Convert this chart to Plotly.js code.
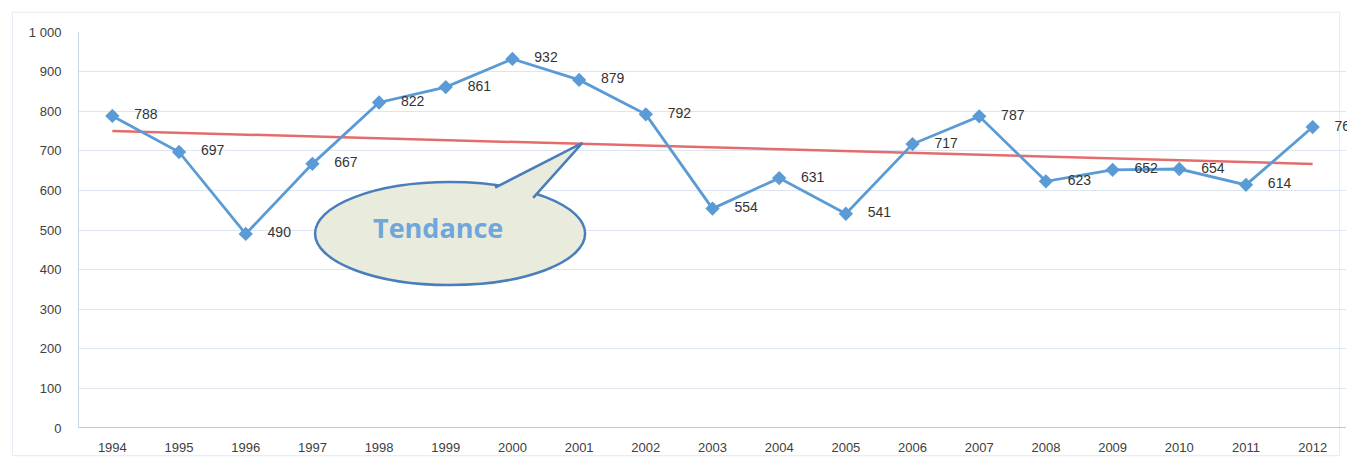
<!DOCTYPE html>
<html>
<head>
<meta charset="utf-8">
<script src="https://cdn.plot.ly/plotly-3.0.1.min.js"></script>
<style>
html,body{margin:0;padding:0;background:#fff;}
#chart{width:1347px;height:461px;}
</style>
</head>
<body>
<div id="chart"></div>
<script>
var years = [1994,1995,1996,1997,1998,1999,2000,2001,2002,2003,2004,2005,2006,2007,2008,2009,2010,2011,2012];
var values = [788,697,490,667,822,861,932,879,792,554,631,541,717,787,623,652,654,614,760];
var yTicks = [0,100,200,300,400,500,600,700,800,900,1000];
var calloutText = "Tendance";

// linear trend (least squares) computed from the series
var n = years.length;
var mx = years.reduce(function(a,b){return a+b;},0)/n;
var my = values.reduce(function(a,b){return a+b;},0)/n;
var sxy = 0, sxx = 0;
for (var i=0;i<n;i++){ sxy += (years[i]-mx)*(values[i]-my); sxx += (years[i]-mx)*(years[i]-mx); }
var slope = sxy/sxx;
var trendX = [years[0], years[n-1]];
var trendY = trendX.map(function(x){return my + slope*(x-mx);});

var blue = '#5b9bd5';
var data = [
  {
    x: trendX, y: trendY, mode: 'lines', type: 'scatter',
    line: {color: '#e46c6c', width: 2.5}, hoverinfo: 'skip', showlegend: false
  },
  {
    x: years, y: values, mode: 'lines+markers+text', type: 'scatter',
    line: {color: blue, width: 2.8},
    marker: {symbol: 'diamond', size: 11, color: blue},
    text: values.map(function(v){return '\u2002\u2002' + v;}), textposition: 'middle right',
    textfont: {family: 'Liberation Sans, Arial, sans-serif', size: 14, color: '#333'},
    cliponaxis: false, showlegend: false
  }
];

var layout = {
  width: 1347, height: 461,
  margin: {l: 79, r: 1, t: 32, b: 33},
  paper_bgcolor: '#fff', plot_bgcolor: '#fff',
  separators: ', ',
  showlegend: false,
  font: {family: 'Liberation Sans, Arial, sans-serif', size: 13, color: '#404040'},
  xaxis: {
    type: 'linear', range: [1993.5, 2012.5],
    tickvals: years, ticktext: years.map(String),
    showgrid: false, zeroline: false,
    showline: false, ticks: '', ticklabelstandoff: 10,
    tickfont: {size: 13, color: '#404040'}
  },
  yaxis: {
    range: [0, 1000], tickvals: yTicks, tickformat: ',d',
    showgrid: true, gridcolor: '#dde5ef', gridwidth: 1,
    zeroline: false, showline: true, linecolor: '#c9d6e6', linewidth: 1,
    ticks: '', ticklen: 0, ticklabelstandoff: 14,
    tickfont: {size: 13, color: '#404040'}
  },
  shapes: [
    {type: 'rect', xref: 'paper', yref: 'paper', x0: -0.0526, x1: 0.995, y0: -0.07, y1: 1.05,
     line: {color: '#e3eaf2', width: 1}, layer: 'below'},
    {type: 'line', xref: 'paper', yref: 'y', x0: 0, x1: 1, y0: 0, y1: 0,
     line: {color: '#a9b8cc', width: 1.5}},
    {type: 'circle', xref: 'x', yref: 'y', x0: 1997.04, x1: 2001.09, y0: 361, y1: 621,
     fillcolor: '#e9ecdc', line: {color: '#4a7ebb', width: 2.5}},
    {type: 'path', xref: 'x', yref: 'y',
     path: 'M 1999.74,607 L 2001.05,720 L 2000.31,581',
     fillcolor: '#e9ecdc', line: {color: '#4a7ebb', width: 2.5}}
  ],
  annotations: [
    {x: 1998.89, y: 506, xref: 'x', yref: 'y', text: '<b>' + calloutText + '</b>',
     showarrow: false, font: {family: 'Open Sans, Liberation Sans, sans-serif', size: 27, color: '#6fa6dc'}}
  ]
};

Plotly.newPlot('chart', data, layout, {displayModeBar: false, staticPlot: true});
</script>
</body>
</html>
